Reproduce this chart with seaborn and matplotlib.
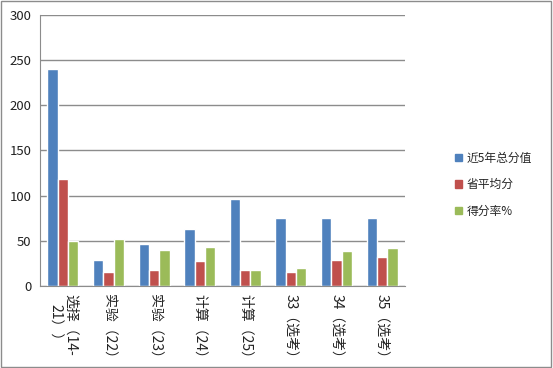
import numpy as np
import pandas as pd
import matplotlib
matplotlib.use("Agg")
import matplotlib.pyplot as plt
from matplotlib.patches import Rectangle
import seaborn as sns

categories = ["选择（14-\n21））", "实验（22）", "实验（23）", "计算（24）",
              "计算（25）", "33（选考）", "34（选考）", "35（选考）"]
series_names = ["近5年总分值", "省平均分", "得分率%"]
total_5yr = [240, 29, 46, 63, 96, 75, 75, 75]
prov_avg = [119, 15, 18, 28, 18, 15, 29, 32]
score_rate = [50, 52, 40, 43, 18, 20, 39, 42]
colors = ["#4F81BD", "#C0504D", "#9BBB59"]

df = pd.DataFrame({
    "cat": categories * 3,
    "series": [s for s in series_names for _ in categories],
    "value": total_5yr + prov_avg + score_rate,
})

sns.set_style("white")
plt.rcParams["font.family"] = ["Noto Sans CJK SC", "DejaVu Sans"]

fig = plt.figure(figsize=(5.53, 3.68), dpi=100)
ax = fig.add_axes([40 / 553, 1 - 286 / 368, 365 / 553, 271 / 368])

sns.barplot(data=df, x="cat", y="value", hue="series", palette=colors,
            width=0.68, gap=0, saturation=1, ax=ax, legend=False)

ax.set_ylim(0, 300)
ax.set_xlim(-0.5, len(categories) - 0.5)
ax.set_yticks(range(0, 301, 50))
ax.yaxis.grid(True, color="#8C8C8C", lw=1)
ax.set_axisbelow(True)
ax.set_xlabel(""); ax.set_ylabel("")
for s in ["top", "right"]:
    ax.spines[s].set_visible(False)
ax.spines["left"].set_color("#8C8C8C")
ax.spines["bottom"].set_color("#8C8C8C")
ax.tick_params(axis="y", length=0, labelsize=9.5, colors="#222222", pad=6)

# category boundary ticks
ax.set_xticks(np.arange(-0.5, len(categories), 1), minor=True)
ax.tick_params(axis="x", which="minor", length=5, color="#8C8C8C", direction="out")
ax.tick_params(axis="x", which="major", length=0)
ax.set_xticks(range(len(categories)))
ax.set_xticklabels(categories, rotation=-90, fontsize=10, va="top", ha="center",
                   linespacing=1.1, color="#222222")
ax.tick_params(axis="x", which="major", pad=6)

handles = [Rectangle((0, 0), 1, 1, color=c) for c in colors]
fig.legend(handles, series_names, loc="upper left", bbox_to_anchor=(444 / 553, 1 - 141 / 368),
           frameon=False, fontsize=8.5, handlelength=0.6, handleheight=0.6,
           handletextpad=0.4, labelspacing=1.15)

fig.patches.append(Rectangle((0.002, 0.003), 0.995, 0.994, transform=fig.transFigure,
                             fill=False, edgecolor="#8C8C8C", lw=1))

fig.savefig("out.png", dpi=100)
